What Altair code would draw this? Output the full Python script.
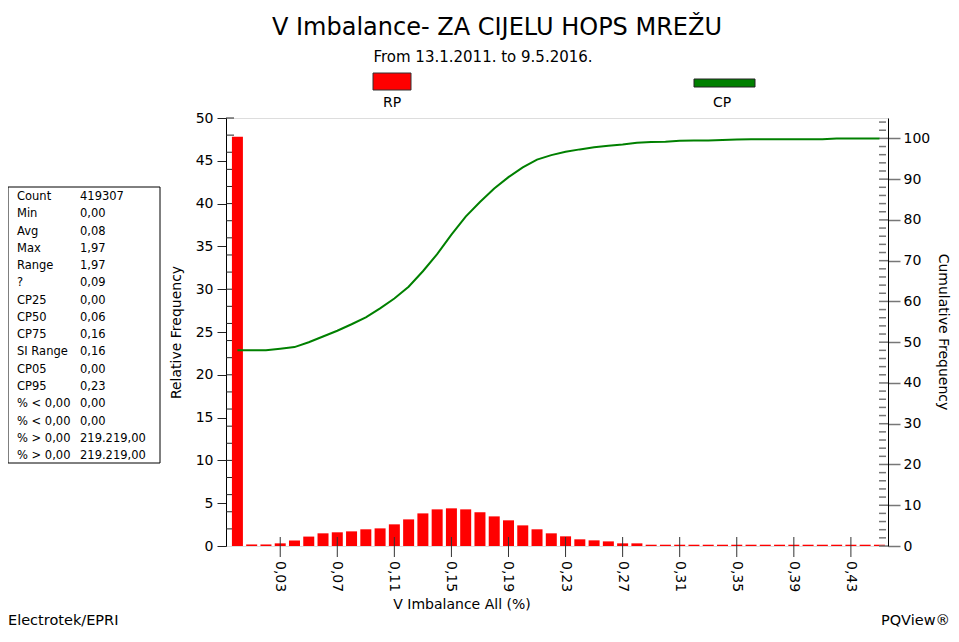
import altair as alt
import pandas as pd

FONT = "DejaVu Sans"

# ---------------- data ----------------
bins = [0.00, 0.01, 0.02, 0.03, 0.04, 0.05, 0.06, 0.07, 0.08, 0.09,
        0.10, 0.11, 0.12, 0.13, 0.14, 0.15, 0.16, 0.17, 0.18, 0.19,
        0.20, 0.21, 0.22, 0.23, 0.24, 0.25, 0.26, 0.27, 0.28, 0.29,
        0.30, 0.31, 0.32, 0.33, 0.34, 0.35, 0.36, 0.37, 0.38, 0.39,
        0.40, 0.41, 0.42, 0.43, 0.44, 0.45]
rp = [47.8, 0.18, 0.18, 0.31, 0.64, 1.10, 1.48, 1.60, 1.71, 1.95,
      2.06, 2.53, 3.11, 3.81, 4.28, 4.40, 4.28, 3.93, 3.46, 3.00,
      2.41, 1.95, 1.48, 1.13, 0.78, 0.66, 0.54, 0.31, 0.31, 0.15,
      0.15, 0.15, 0.15, 0.15, 0.15, 0.15, 0.15, 0.15, 0.15, 0.15,
      0.15, 0.15, 0.15, 0.15, 0.15, 0.15]
cp = [48.0, 48.0, 48.0, 48.4, 48.8, 50.0, 51.4, 52.8, 54.4, 56.1,
      58.3, 60.7, 63.6, 67.4, 71.6, 76.4, 80.8, 84.4, 87.7, 90.5,
      92.9, 94.8, 95.9, 96.7, 97.3, 97.8, 98.2, 98.5, 98.9, 99.1,
      99.2, 99.4, 99.5, 99.5, 99.6, 99.7, 99.8, 99.8, 99.8, 99.8,
      99.8, 99.8, 100.0, 100.0, 100.0, 100.0]

x_ticks = [0.03, 0.07, 0.11, 0.15, 0.19, 0.23, 0.27, 0.31, 0.35, 0.39, 0.43]
x_tick_labels = ["0,03", "0,07", "0,11", "0,15", "0,19", "0,23", "0,27", "0,31", "0,35", "0,39", "0,43"]
left_ticks = [0, 5, 10, 15, 20, 25, 30, 35, 40, 45, 50]
left_minor = [2, 4, 6, 8, 10, 12, 14, 16, 18, 20, 22, 24, 26, 28, 30, 32, 34, 36, 38, 40, 42, 44, 46, 48, 50]
right_ticks = [0, 10, 20, 30, 40, 50, 60, 70, 80, 90, 100]
right_minor = [2, 4, 6, 8, 12, 14, 16, 18, 22, 24, 26, 28, 32, 34, 36, 38, 42, 44, 46, 48,
               52, 54, 56, 58, 62, 64, 66, 68, 72, 74, 76, 78, 82, 84, 86, 88, 92, 94, 96, 98, 102, 104]

stat_labels = ["Count", "Min", "Avg", "Max", "Range", "?", "CP25", "CP50", "CP75",
               "SI Range", "CP05", "CP95", "% < 0,00", "% < 0,00", "% > 0,00", "% > 0,00"]
stat_values = ["419307", "0,00", "0,08", "1,97", "1,97", "0,09", "0,00", "0,06", "0,16",
               "0,16", "0,00", "0,23", "0,00", "0,00", "219.219,00", "219.219,00"]

title_text = "V Imbalance- ZA CIJELU HOPS MREŽU"
subtitle_text = "From 13.1.2011. to 9.5.2016."

W, H = 662, 428

df = pd.DataFrame({"v": bins, "rp": rp, "cp": cp})
xscale = alt.Scale(domain=[-0.0045, 0.4525], nice=False, zero=False)
yl = alt.Scale(domain=[0, 50], nice=False)
yr = alt.Scale(domain=[0, 105], nice=False)

one = pd.DataFrame({"a": [0]})

# left minor ticks (inside, under bars)
lminor = alt.Chart(pd.DataFrame({"t": left_minor})).mark_rule(color="#222", strokeWidth=1).encode(
    x=alt.value(0), x2=alt.value(8),
    y=alt.Y("t:Q", scale=yl, axis=None))

bars = alt.Chart(df).mark_bar(color="#FF0000", size=11).encode(
    x=alt.X("v:Q", scale=xscale, axis=None),
    y=alt.Y("rp:Q", scale=yl,
            axis=alt.Axis(values=left_ticks, tickSize=9, labelPadding=4,
                          title="Relative Frequency", titlePadding=12, grid=False,
                          domainColor="black", tickColor="#222", labelFontSize=14,
                          titleFontSize=14, titleFontWeight="normal", labelColor="black",
                          titleColor="black", labelFont=FONT, titleFont=FONT)))

xt = pd.DataFrame({"t": x_ticks, "lab": x_tick_labels})
# x ticks crossing the axis line
xtick = alt.Chart(xt).mark_rule(color="#333", strokeWidth=1).encode(
    x=alt.X("t:Q", scale=xscale, axis=None),
    y=alt.value(H - 9), y2=alt.value(H + 11))
xlab = alt.Chart(xt).mark_text(font=FONT, fontSize=14, angle=90, align="left",
                               baseline="middle", color="black").encode(
    x=alt.X("t:Q", scale=xscale, axis=None),
    y=alt.value(H + 15), text="lab:N")

rminor = alt.Chart(pd.DataFrame({"t": right_minor})).mark_rule(color="#777", strokeWidth=1.5).encode(
    x=alt.value(W - 9), x2=alt.value(W - 2),
    y=alt.Y("t:Q", scale=yr, axis=None))

rmajor_in = alt.Chart(pd.DataFrame({"t": right_ticks})).mark_rule(color="#777", strokeWidth=1.5).encode(
    x=alt.value(W - 9), x2=alt.value(W),
    y=alt.Y("t:Q", scale=yr, axis=None))

line = alt.Chart(df).mark_line(color="#008000", strokeWidth=2).encode(
    x=alt.X("v:Q", scale=xscale, axis=None),
    y=alt.Y("cp:Q", scale=yr,
            axis=alt.Axis(orient="right", values=right_ticks, tickSize=12, labelPadding=3,
                          title=None, grid=False,
                          domainColor="black", tickColor="#777", tickWidth=1.5,
                          labelFontSize=14, labelColor="black", labelFont=FONT)))

def txt(text, x, y, size, align="center", baseline="middle", angle=0):
    return alt.Chart(one).mark_text(font=FONT, fontSize=size, align=align, baseline=baseline,
                                    color="black", angle=angle).encode(
        x=alt.value(x), y=alt.value(y), text=alt.value(text))

title = txt(title_text, 271, -90, 24)
subtitle = txt(subtitle_text, 257, -61, 15)
xtitle = txt("V Imbalance All (%)", 236, 487, 14)
rtitle = txt("Cumulative Frequency", 717, H / 2, 14, angle=90)
foot_l = txt("Electrotek/EPRI", -218, 503, 14.5, align="left")
foot_r = txt("PQView®", 724, 503, 14.5, align="right")
leg_rp = txt("RP", 166, -15, 14)
leg_cp = txt("CP", 496, -15, 14)

sw_rp = alt.Chart(one).mark_rect(color="#FF0000", stroke="#333", strokeWidth=1).encode(
    x=alt.value(147), x2=alt.value(185), y=alt.value(-45), y2=alt.value(-28))
sw_cp = alt.Chart(one).mark_rect(color="#008000", stroke="#222", strokeWidth=1).encode(
    x=alt.value(468), x2=alt.value(529), y=alt.value(-39), y2=alt.value(-31))

box = alt.Chart(one).mark_rect(fill="white", stroke="black", strokeWidth=1).encode(
    x=alt.value(-218), x2=alt.value(-66), y=alt.value(69), y2=alt.value(345))

sdf = pd.DataFrame({"label": stat_labels, "value": stat_values})
stats_base = alt.Chart(sdf).transform_window(
    row="row_number()").transform_calculate(py="79 + (datum.row - 1) * 17.27")
stats_l = stats_base.mark_text(font=FONT, fontSize=11.5, align="left", baseline="middle",
                               color="black").encode(
    x=alt.value(-209), y=alt.Y("py:Q", scale=None), text="label:N")
stats_v = stats_base.mark_text(font=FONT, fontSize=11.5, align="left", baseline="middle",
                               color="black").encode(
    x=alt.value(-146), y=alt.Y("py:Q", scale=None), text="value:N")

chart = alt.layer(
    lminor, bars, xtick, xlab, rminor, rmajor_in, line,
    title, subtitle, xtitle, rtitle, foot_l, foot_r, leg_rp, leg_cp, sw_rp, sw_cp,
    box, stats_l, stats_v
).resolve_scale(y="independent").properties(
    width=W, height=H,
    autosize=alt.AutoSizeParams(type="none"),
    padding={"left": 218, "top": 110, "right": 63, "bottom": 82},
).configure_view(stroke="black", strokeWidth=1.5).configure(font=FONT, background="white")

chart.save("out.html", embed_options={"renderer": "svg", "actions": False})
